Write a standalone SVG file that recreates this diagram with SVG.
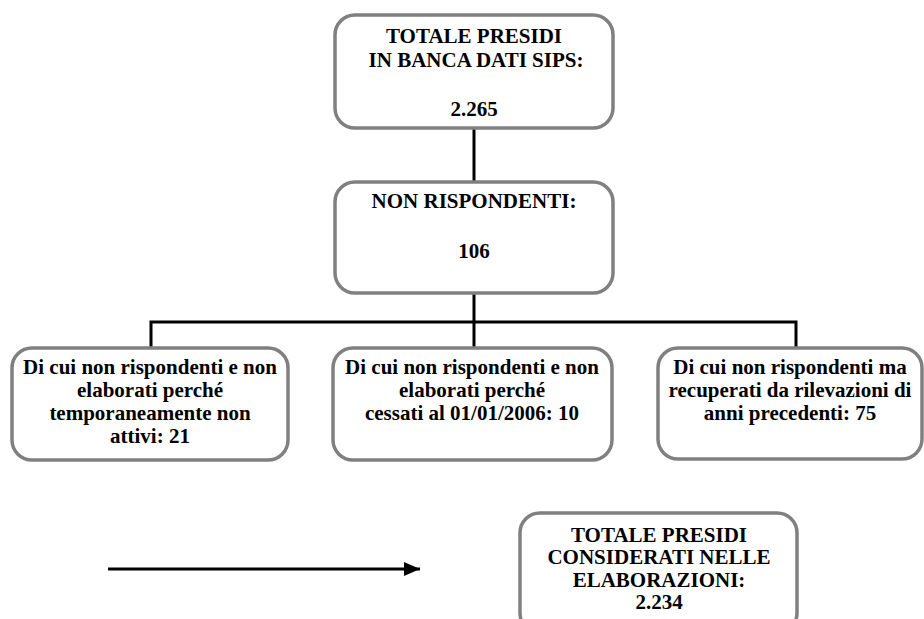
<svg xmlns="http://www.w3.org/2000/svg" width="924" height="619" viewBox="0 0 924 619">
<defs>
<style>
.box{fill:#fff;stroke:#808080;stroke-width:3.5}
.t{font-family:"Liberation Serif","Times New Roman",serif;font-weight:bold;font-size:21px;fill:#000;text-anchor:middle}
.c{fill:none;stroke:#000;stroke-width:3}
</style>
<marker id="ah" viewBox="0 0 16 14" refX="16" refY="7" markerWidth="16" markerHeight="14" orient="auto" markerUnits="userSpaceOnUse">
<path d="M0,0 L16,7 L0,14 z" fill="#000"/>
</marker>
</defs>
<rect width="924" height="619" fill="#fff"/>
<g id="connectors">
<path class="c" d="M474,128 V182"/>
<path class="c" d="M474,293 V348"/>
<path class="c" d="M151,348 V322 H796 V348"/>
<path class="c" d="M108,569 H420" marker-end="url(#ah)"/>
</g>
<g id="n-totale">
<rect class="box" x="335" y="15" width="278" height="113" rx="20"/>
<text class="t" x="474" y="43">TOTALE PRESIDI</text>
<text class="t" x="476" y="67">IN BANCA DATI SIPS:</text>
<text class="t" x="474" y="116">2.265</text>
</g>
<g id="n-nonrisp">
<rect class="box" x="335" y="182" width="278" height="111" rx="20"/>
<text class="t" x="474" y="208">NON RISPONDENTI:</text>
<text class="t" x="474" y="258">106</text>
</g>
<g id="n-temp">
<rect class="box" x="12" y="348" width="276" height="112" rx="20"/>
<text class="t" x="150" y="374">Di cui non rispondenti e non</text>
<text class="t" x="150" y="397">elaborati perché</text>
<text class="t" x="150" y="420">temporaneamente non</text>
<text class="t" x="150" y="443">attivi: 21</text>
</g>
<g id="n-cessati">
<rect class="box" x="333" y="348" width="279" height="112" rx="20"/>
<text class="t" x="472" y="374">Di cui non rispondenti e non</text>
<text class="t" x="472" y="397">elaborati perché</text>
<text class="t" x="472" y="420">cessati al 01/01/2006: 10</text>
</g>
<g id="n-recuperati">
<rect class="box" x="658" y="348" width="264" height="111" rx="20"/>
<text class="t" x="790" y="374">Di cui non rispondenti ma</text>
<text class="t" x="790" y="397">recuperati da rilevazioni di</text>
<text class="t" x="790" y="420">anni precedenti: 75</text>
</g>
<g id="n-considerati">
<rect class="box" x="520" y="513" width="277" height="120" rx="20"/>
<text class="t" x="659" y="542">TOTALE PRESIDI</text>
<text class="t" x="659" y="564">CONSIDERATI NELLE</text>
<text class="t" x="659" y="587">ELABORAZIONI:</text>
<text class="t" x="659" y="609">2.234</text>
</g>
</svg>
